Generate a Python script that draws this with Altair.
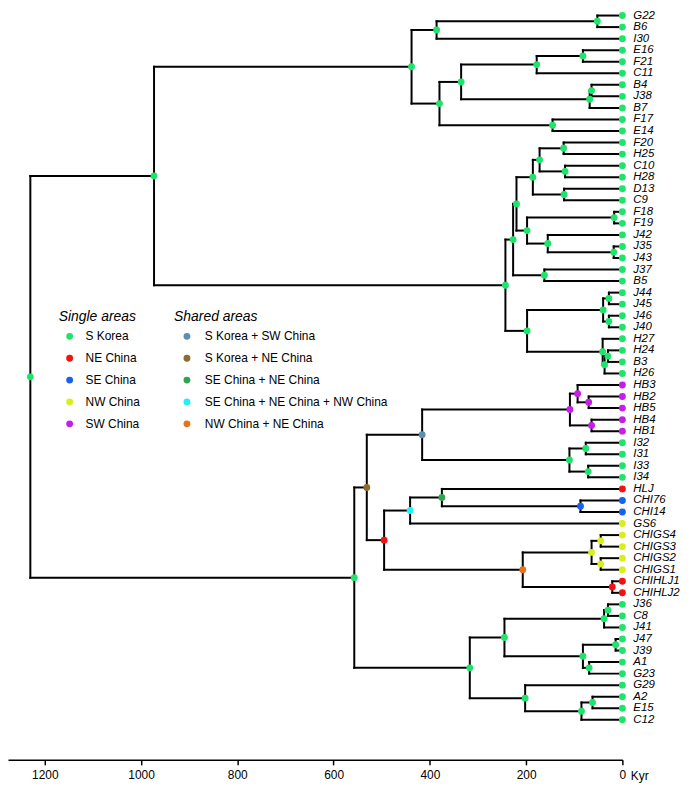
import altair as alt
import pandas as pd

# ---------------- data ----------------
leaves = ["G22", "B6", "I30", "E16", "F21", "C11", "B4", "J38", "B7", "F17", "E14",
          "F20", "H25", "C10", "H28", "D13", "C9", "F18", "F19", "J42", "J35", "J43",
          "J37", "B5", "J44", "J45", "J46", "J40", "H27", "H24", "B3", "H26",
          "HB3", "HB2", "HB5", "HB4", "HB1", "I32", "I31", "I33", "I34",
          "HLJ", "CHI76", "CHI14", "GS6", "CHIGS4", "CHIGS3", "CHIGS2", "CHIGS1",
          "CHIHLJ1", "CHIHLJ2", "J36", "C8", "J41", "J47", "J39", "A1", "G23",
          "G29", "A2", "E15", "C12"]

SK, NE, SE, NW, SW = "S Korea", "NE China", "SE China", "NW China", "SW China"
leaf_areas = [SK] * 32 + [SW] * 5 + [SK] * 4 + [NE, SE, SE, NW, NW, NW, NW, NW, NE, NE] + [SK] * 11

# internal nodes (children listed before parents)
node_names = ["n1", "n2", "n3", "n4", "n5", "n6", "n7", "n8", "n9", "n10",
              "n11", "n12", "n13", "n14", "n15", "n16", "n17", "n18", "n19", "n20",
              "n21", "n22", "n23", "n24", "n25", "n26", "n27", "n28", "n29", "n30",
              "n31", "n32", "n33", "n34", "n35", "n36", "n37", "n38", "n39", "n40",
              "n41", "n42", "n43", "n44", "n45", "n46", "n47", "n48", "n49", "n50",
              "n51", "n52", "n53", "n54", "n55", "n56", "n57", "n58", "n59", "n60",
              "root"]
node_ages = [52, 386, 82, 178, 64, 68, 335, 145, 380, 438,
             122, 119, 172, 121, 186, 17, 18, 155, 198, 220,
             162, 227, 28, 28, 40, 30, 37, 41, 198, 243,
             973, 70, 93, 64, 109, 76, 71, 110, 416, 87,
             375, 441, 45, 45, 64, 21, 207, 495, 531, 30,
             38, 14, 69, 82, 245, 62, 85, 202, 317, 557,
             1230]
node_left = ["G22", "n1", "E16", "n3", "B4", "n5", "n4", "F17", "n7", "n2",
             "F20", "C10", "n11", "D13", "n13", "F18", "J35", "J42", "n16", "n15",
             "J37", "n20", "J44", "J46", "n23", "H24", "n26", "H27", "n25", "n22",
             "n10", "HB2", "HB3", "HB4", "n33", "I32", "I33", "n36", "n35", "CHI76",
             "HLJ", "n41", "CHIGS4", "CHIGS2", "n43", "CHIHLJ1", "n45", "n42", "n39", "J36",
             "n50", "J47", "A1", "n52", "n51", "A2", "n56", "G29", "n55", "n49",
             "n31"]
node_right = ["B6", "I30", "F21", "C11", "J38", "B7", "n6", "E14", "n8", "n9",
              "H25", "H28", "n12", "C9", "n14", "F19", "J43", "n17", "n18", "n19",
              "B5", "n21", "J45", "J40", "n24", "B3", "H26", "n27", "n28", "n29",
              "n30", "HB5", "n32", "HB1", "n34", "I31", "I34", "n37", "n38", "CHI14",
              "n40", "GS6", "CHIGS3", "CHIGS1", "n44", "CHIHLJ2", "n46", "n47", "n48", "C8",
              "J41", "J39", "G23", "n53", "n54", "E15", "C12", "n57", "n58", "n59",
              "n60"]
SKSW = "S Korea + SW China"
SKNE = "S Korea + NE China"
SENE = "SE China + NE China"
SENENW = "SE China + NE China + NW China"
NWNE = "NW China + NE China"
node_areas = [SK] * 31 + [SW] * 4 + [SK] * 3 + [SKSW, SE, SENE, SENENW, NW, NW, NW, NE, NWNE, NE, SKNE] + [SK] * 12

single_areas = [SK, NE, SE, NW, SW]
single_colors = ["#1fe46c", "#f21212", "#1462ee", "#d7ef1c", "#c41ee8"]
shared_areas = [SKSW, SKNE, SENE, SENENW, NWNE]
shared_colors = ["#5e8fae", "#8d6b2e", "#2fa552", "#1ff0fb", "#e8731a"]

tick_values = [0, 200, 400, 600, 800, 1000, 1200]

# ---------------- tree layout ----------------
pos = {name: float(i) for i, name in enumerate(leaves)}
age = {name: 0.0 for name in leaves}
area = dict(zip(leaves, leaf_areas))
segs = []
for n, a, l, r, ar in zip(node_names, node_ages, node_left, node_right, node_areas):
    pos[n] = (pos[l] + pos[r]) / 2.0
    age[n] = float(a)
    area[n] = ar
    segs.append({"k": a, "k2": a, "p": pos[l], "p2": pos[r]})
    for c in (l, r):
        segs.append({"k": a, "k2": age[c], "p": pos[c], "p2": pos[c]})

seg_df = pd.DataFrame(segs)
all_names = leaves + node_names
pts = pd.DataFrame({"name": all_names,
                    "k": [age[n] for n in all_names],
                    "p": [pos[n] for n in all_names],
                    "area": [area[n] for n in all_names]})
single_df = pts[pts["area"].isin(single_areas)]
shared_df = pts[pts["area"].isin(shared_areas)]
leaf_df = pd.DataFrame({"name": leaves, "k": [0.0] * len(leaves),
                        "p": [pos[n] for n in leaves]})

# ---------------- chart ----------------
W, H = 618, 754
FONT = "Liberation Sans"
x_scale = alt.Scale(domain=[0, 1276.4], reverse=True, nice=False, zero=False)
y_scale = alt.Scale(domain=[-0.456, 64.47], reverse=True, nice=False, zero=False)

x_axis = alt.Axis(values=tick_values, format="d", grid=False, tickSize=5,
                  labelFontSize=12, labelFont=FONT, labelColor="black",
                  labelPadding=5, domainColor="black", domainWidth=1.5,
                  tickColor="black", tickWidth=1.5, labelFlush=False,
                  title="Kyr", titleFont=FONT, titleFontSize=12,
                  titleFontWeight="normal", titleColor="black",
                  titleX=W + 8, titleY=16, titleAlign="left",
                  titleBaseline="middle", titleAngle=0)

lines = alt.Chart(seg_df).mark_rule(color="black", strokeWidth=2, strokeCap="square").encode(
    x=alt.X("k:Q", scale=x_scale, axis=x_axis),
    x2="k2:Q",
    y=alt.Y("p:Q", scale=y_scale, axis=None),
    y2="p2:Q",
)

def legend(title, lx, sym_off, lab_off):
    return alt.Legend(title=title, orient="none", legendX=lx, legendY=302,
                      titleFont=FONT, titleFontSize=14, titleFontStyle="italic",
                      titleFontWeight="normal", titleColor="black", titlePadding=6,
                      labelFont=FONT, labelFontSize=12, labelColor="black",
                      labelOffset=lab_off, labelLimit=400, symbolType="circle",
                      symbolSize=48, symbolOffset=sym_off, symbolStrokeWidth=0,
                      rowPadding=10, padding=0)

dots_single = alt.Chart(single_df).mark_circle(size=48, opacity=1).encode(
    x=alt.X("k:Q", scale=x_scale),
    y=alt.Y("p:Q", scale=y_scale),
    color=alt.Color("area:N", scale=alt.Scale(domain=single_areas, range=single_colors),
                    legend=legend("Single areas", 51, 5, 10)),
)

dots_shared = alt.Chart(shared_df).mark_circle(size=48, opacity=1).encode(
    x=alt.X("k:Q", scale=x_scale),
    y=alt.Y("p:Q", scale=y_scale),
    color=alt.Color("area:N", scale=alt.Scale(domain=shared_areas, range=shared_colors),
                    legend=legend("Shared areas", 167, 7, 12)),
)

labels = alt.Chart(leaf_df).mark_text(align="left", baseline="middle", dx=11,
                                      font=FONT, fontSize=11.5, fontStyle="italic",
                                      color="black").encode(
    x=alt.X("k:Q", scale=x_scale),
    y=alt.Y("p:Q", scale=y_scale),
    text="name:N",
)

chart = alt.layer(lines, dots_single, dots_shared, labels).resolve_scale(
    color="independent"
).properties(
    width=W, height=H,
    autosize=alt.AutoSizeParams(type="none"),
    padding={"left": 0, "top": 0, "right": 66, "bottom": 26},
).configure_view(stroke=None)

chart.save("out.html", embed_options={"renderer": "svg", "actions": False})
